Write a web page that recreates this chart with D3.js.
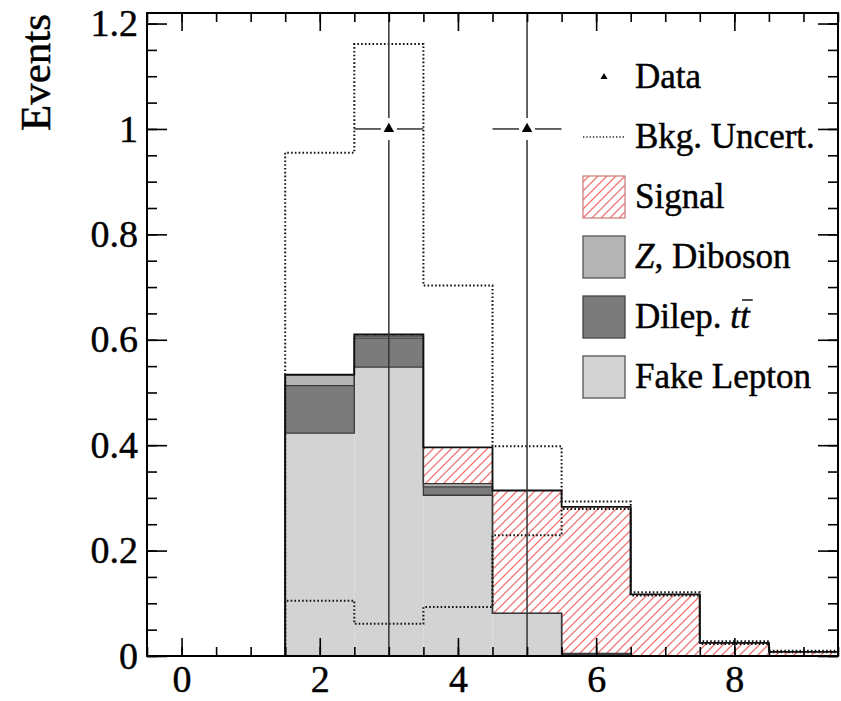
<!DOCTYPE html>
<html><head><meta charset="utf-8">
<script src="https://cdn.jsdelivr.net/npm/d3@7"></script>
<style>
html,body{margin:0;padding:0;background:#fff;}
svg{display:block;}
svg text{font-family:"Liberation Serif","Times New Roman",serif !important;fill:#000;stroke:#000;stroke-width:0.45px;}
</style></head>
<body>
<svg id="chart" width="841" height="701"></svg>
<script>
// ---- data ----
const bins = [0, 1, 2, 3, 4, 5, 6, 7, 8, 9];
const fakeLepton = [0, 0, 0.423, 0.548, 0.305, 0.081, 0.002, 0, 0, 0];
const dilepTT   = [0, 0, 0.090, 0.055, 0.016, 0, 0.002, 0, 0, 0];
const zDiboson  = [0, 0, 0.020, 0.004, 0.006, 0, 0.001, 0, 0, 0];
const signal    = [0, 0, 0.001, 0.003, 0.069, 0.233, 0.278, 0.117, 0.025, 0.008];
const bkgUp     = [0, 0, 0.955, 1.161, 0.703, 0.398, 0.293, 0.121, 0.028, 0.010];
const bkgLo     = [0, 0, 0.105, 0.061, 0.093, 0.229, 0.279, 0.115, 0.023, 0.007];
const dataX     = [3, 5];
const dataY     = [1, 1];
const dataErrLo = [1, 1];
const dataErrHi = [2.3, 2.3];
const xMajorTicks = [0, 2, 4, 6, 8];
const yMajorTicks = [0, 0.2, 0.4, 0.6, 0.8, 1, 1.2];
const yLabel = "Events";
const legendLabels = ["Data", "Bkg. Uncert.", "Signal", "Z, Diboson", "Dilep. tt", "Fake Lepton"];

// ---- layout ----
const L = 147, R = 838, T = 13, B = 656;
const svg = d3.select("#chart");
const x = d3.scaleLinear().domain([-0.5, 9.5]).range([L, R]);
const y = d3.scaleLinear().domain([0, 1.22]).range([B, T]);
const binW = 1;

const colFake = "#d3d3d3", colTT = "#7b7b7b", colZ = "#b4b4b4", hatchCol = "#f07474";

const defs = svg.append("defs");
const pat = defs.append("pattern").attr("id", "hatch").attr("patternUnits", "userSpaceOnUse")
  .attr("width", 9).attr("height", 9);
pat.append("rect").attr("width", 9).attr("height", 9).attr("fill", "#fff");
pat.append("path").attr("d", "M0,9 L9,0 M-2,2 L2,-2 M7,11 L11,7")
  .attr("stroke", hatchCol).attr("stroke-width", 1.3);
defs.append("clipPath").attr("id", "plotclip").append("rect")
  .attr("x", L).attr("y", T).attr("width", R - L).attr("height", B - T);

// cumulative stack
const comps = [
  {vals: fakeLepton, fill: colFake, stroke: "#3a3a3a", sw: 1.3},
  {vals: dilepTT, fill: colTT, stroke: "#3a3a3a", sw: 1.3},
  {vals: zDiboson, fill: colZ, stroke: "#3a3a3a", sw: 1.3},
  {vals: signal, fill: "url(#hatch)", stroke: "#111", sw: 1.8}
];
let base = bins.map(() => 0);
comps.forEach(c => {
  c.lo = base.slice();
  c.hi = base.map((b, i) => b + c.vals[i]);
  base = c.hi;
});

const plot = svg.append("g").attr("clip-path", "url(#plotclip)");
comps.forEach(c => {
  plot.append("g").selectAll("rect").data(bins).join("rect")
    .attr("x", d => x(d - binW / 2))
    .attr("width", d => x(d + binW / 2) - x(d - binW / 2))
    .attr("y", (d, i) => y(c.hi[i]))
    .attr("height", (d, i) => Math.max(0, y(c.lo[i]) - y(c.hi[i])))
    .attr("fill", c.fill);
});
function stepPts(vals) {
  const pts = [[x(bins[0] - binW / 2), y(0)]];
  bins.forEach((b, i) => {
    pts.push([x(b - binW / 2), y(vals[i])]);
    pts.push([x(b + binW / 2), y(vals[i])]);
  });
  pts.push([x(bins[bins.length - 1] + binW / 2), y(0)]);
  return pts;
}
const line = d3.line();
comps.forEach(c => {
  plot.append("path").attr("d", line(stepPts(c.hi)))
    .attr("fill", "none").attr("stroke", c.stroke).attr("stroke-width", c.sw);
});
// background uncertainty band (dotted)
function stepBand(vals) {
  const pts = [];
  bins.forEach((b, i) => {
    if (vals[i] <= 0 && (i === 0 || vals[i - 1] <= 0)) return;
    if (pts.length === 0) pts.push([x(b - binW / 2), y(0)]);
    pts.push([x(b - binW / 2), y(vals[i])]);
    pts.push([x(b + binW / 2), y(vals[i])]);
  });
  return pts;
}
[bkgUp, bkgLo].forEach(v => {
  plot.append("path").attr("d", line(stepBand(v)))
    .attr("fill", "none").attr("stroke", "#111").attr("stroke-width", 2)
    .attr("stroke-dasharray", "1.6,2.2");
});

// data
const gapH = 8, gapV = 11;
const dataG = plot.append("g");
dataX.forEach((dx, i) => {
  const cx = x(dx), cy = y(dataY[i]);
  const yTop = Math.max(T, y(dataY[i] + dataErrHi[i]));
  const yBot = y(dataY[i] - dataErrLo[i]);
  const segs = [
    [cx, yTop, cx, cy - gapV], [cx, cy + gapV, cx, yBot],
    [x(dx - binW / 2), cy, cx - gapH, cy], [cx + gapH, cy, x(dx + binW / 2), cy]
  ];
  segs.forEach(s => dataG.append("line").attr("x1", s[0]).attr("y1", s[1]).attr("x2", s[2]).attr("y2", s[3])
    .attr("stroke", "#333").attr("stroke-width", 1.5));
  dataG.append("path").attr("d", d3.symbol(d3.symbolTriangle, 48)())
    .attr("transform", `translate(${cx},${cy})`).attr("fill", "#000");
});

// ---- axes ----
const fs = 38;
const xMinor = d3.range(-0.5, 9.51, 0.5);
const yMinor = d3.range(0, 1.2001, 0.05);
function styleAxis(g) {
  g.attr("font-family", null).attr("font-size", null);
  g.select(".domain").remove();
  g.selectAll(".tick line").attr("stroke", "#000").attr("stroke-width", 1.6);
  g.selectAll(".tick text").style("font-size", fs + "px").attr("fill", "#000");
}
svg.append("g").attr("transform", `translate(0,${B})`)
  .call(d3.axisBottom(x).tickValues(xMinor).tickSize(-9).tickFormat("")).call(styleAxis);
svg.append("g").attr("transform", `translate(0,${B})`)
  .call(d3.axisBottom(x).tickValues(xMajorTicks).tickSize(-18).tickPadding(9).tickFormat(d3.format("d"))).call(styleAxis);
svg.append("g").attr("transform", `translate(0,${T})`)
  .call(d3.axisTop(x).tickValues(xMinor).tickSize(-9).tickFormat("")).call(styleAxis);
svg.append("g").attr("transform", `translate(0,${T})`)
  .call(d3.axisTop(x).tickValues(xMajorTicks).tickSize(-18).tickFormat("")).call(styleAxis);
svg.append("g").attr("transform", `translate(${L},0)`)
  .call(d3.axisLeft(y).tickValues(yMinor).tickSize(-10).tickFormat("")).call(styleAxis);
svg.append("g").attr("transform", `translate(${L},0)`)
  .call(d3.axisLeft(y).tickValues(yMajorTicks).tickSize(-20).tickPadding(9).tickFormat(d => d3.format("")(+d.toFixed(1)))).call(styleAxis);
svg.append("g").attr("transform", `translate(${R},0)`)
  .call(d3.axisRight(y).tickValues(yMinor).tickSize(-10).tickFormat("")).call(styleAxis);
svg.append("g").attr("transform", `translate(${R},0)`)
  .call(d3.axisRight(y).tickValues(yMajorTicks).tickSize(-20).tickFormat("")).call(styleAxis);

// frame
svg.append("rect").attr("x", L).attr("y", T).attr("width", R - L).attr("height", B - T)
  .attr("fill", "none").attr("stroke", "#000").attr("stroke-width", 2);

// y label
svg.append("text").attr("transform", `translate(50,${T + 1}) rotate(-90)`)
  .attr("text-anchor", "end").style("font-size", "43px").text(yLabel);

// ---- legend ----
const lg = svg.append("g");
const lx = 583, bw = 42, tx = 635, row0 = 77, dy = 60, lfs = 35;
const rowY = i => row0 + i * dy;
lg.append("path").attr("d", d3.symbol(d3.symbolTriangle, 22)()).attr("transform", `translate(${lx + bw / 2},${rowY(0)})`).attr("fill", "#000");
lg.append("line").attr("x1", lx).attr("x2", lx + bw).attr("y1", rowY(1)).attr("y2", rowY(1))
  .attr("stroke", "#222").attr("stroke-width", 1.3).attr("stroke-dasharray", "1.3,2");
const boxFills = ["url(#hatch)", colZ, colTT, colFake];
const boxStrokes = ["#d08080", "#555", "#444", "#555"];
boxFills.forEach((f, k) => {
  lg.append("rect").attr("x", lx).attr("y", rowY(k + 2) - bw / 2).attr("width", bw).attr("height", bw)
    .attr("fill", f).attr("stroke", boxStrokes[k]).attr("stroke-width", 1.3);
});
legendLabels.forEach((lab, i) => {
  const t = lg.append("text").attr("x", tx).attr("y", rowY(i) + 11).style("font-size", lfs + "px");
  if (i === 3) {
    t.append("tspan").style("font-style", "italic").text("Z");
    t.append("tspan").text(", Diboson");
  } else if (i === 4) {
    t.append("tspan").text("Dilep. ");
    t.append("tspan").style("font-style", "italic").text("tt");
    const node = t.node();
    const n = node.getNumberOfChars();
    const s = node.getStartPositionOfChar(n - 1), e = node.getEndPositionOfChar(n - 1);
    lg.append("line").attr("x1", s.x + 2).attr("x2", e.x + 3).attr("y1", rowY(i) - 17).attr("y2", rowY(i) - 17)
      .attr("stroke", "#000").attr("stroke-width", 1.4);
  } else {
    t.text(lab);
  }
});
</script>
</body></html>
